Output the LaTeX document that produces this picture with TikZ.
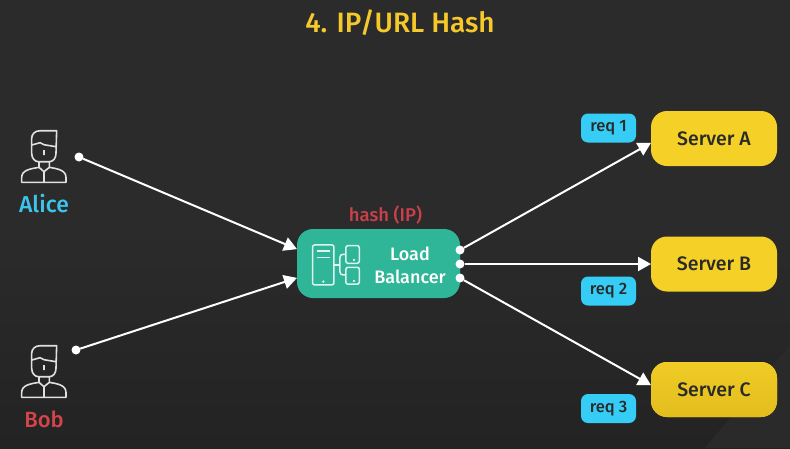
\documentclass[tikz,border=0pt]{standalone}
\usepackage{fontspec}
\setmainfont{Fira Sans Medium}
\usetikzlibrary{arrows.meta}
\definecolor{bgtop}{HTML}{2B2B2B}
\definecolor{bgbot}{HTML}{232323}
\definecolor{bgband}{HTML}{2A2A2A}
\definecolor{titleyellow}{HTML}{F5C92A}
\definecolor{serveryellow}{HTML}{F5D027}
\definecolor{servertop}{HTML}{F0CC25}
\definecolor{serverbot}{HTML}{E2BD1E}
\definecolor{lbgreen}{HTML}{2FB597}
\definecolor{reqblue}{HTML}{35CDF5}
\definecolor{alicecol}{HTML}{3CC4EC}
\definecolor{bobcol}{HTML}{D4444C}
\definecolor{hashcol}{HTML}{C8414A}
\definecolor{darktext}{HTML}{2A2A2A}
\definecolor{iconcol}{HTML}{DDF5EF}
\tikzset{
  server/.style={fill=serveryellow,rounded corners=16pt,minimum width=126pt,minimum height=55pt,
    inner sep=0pt,outer sep=0pt,text=darktext,font=\fontsize{19.5}{20}\selectfont},
  req/.style={fill=reqblue,rounded corners=7pt,minimum width=55pt,minimum height=29pt,
    inner sep=0pt,outer sep=0pt,text=darktext,font=\fontsize{16.5}{18}\selectfont},
  dot/.style={circle,fill=white,minimum size=9pt,inner sep=0pt,outer sep=0pt},
  link/.style={draw=white,line width=2pt,-{Triangle[length=13pt,width=14pt]}},
  pics/person/.style={code={
    \draw[line width=1.6pt,draw=white!88!black,line join=round,x=.333pt,y=-.333pt]
      (-37,-40) -- (-37,-10) .. controls (-37,5) and (-27,15) .. (-17,15) -- (16,15)
      .. controls (27,15) and (36,5) .. (36,-10) -- (38,-78) -- (-12,-78)
      .. controls (-27,-78) and (-37,-68) .. (-37,-55) -- cycle
      (-37,-35) -- (-12,-42) -- (0,-36) -- (36,-30)
      (0,-20) -- (0,-5)
      (-15,15) -- (-15,32) -- (0,45) -- (16,32) -- (16,15)
      (-15,32) .. controls (-40,36) and (-67,40) .. (-67,62) -- (-67,77) -- (66,77) -- (66,62)
      .. controls (66,40) and (40,36) .. (16,32)
      (0,45) -- (0,77);
  }}
}
\begin{document}
\begin{tikzpicture}[x=1pt,y=-1pt]
  \useasboundingbox (0,0) rectangle (790,448);
  \fill[top color=bgtop,bottom color=bgbot,middle color=bgtop] (0,0) rectangle (790,448);
  \fill[bgband] (790,345) -- (790,448) -- (705,448) -- cycle;

  \node[text=titleyellow,font=\fontsize{28}{30}\selectfont] (title) at (400,23) {4. IP/URL Hash};

  \pic at (44,156.7) {person};
  \node[text=alicecol,font=\fontsize{23}{24}\selectfont] (alice) at (44,204) {Alice};
  \pic at (44,371.7) {person};
  \node[text=bobcol,font=\fontsize{22}{24}\selectfont] (bob) at (44,419) {Bob};
  \node[dot] (alicedot) at (79,157) {};
  \node[dot] (bobdot) at (76,350) {};

  \node[text=hashcol,font=\fontsize{18.5}{18}\selectfont] (hash) at (385.5,215) {hash (IP)};
  \node[fill=lbgreen,rounded corners=16pt,minimum width=163pt,minimum height=69pt,inner sep=0pt,outer sep=0pt] (lb) at (378.5,263.5) {};
  \node[text=white,align=center,font=\fontsize{18}{23}\selectfont] (lbtext) at (410,265) {Load\\Balancer};
  \begin{scope}[shift={(280,195)},x=.333pt,y=-.333pt,draw=iconcol,line width=1.5pt]
    \draw[rounded corners=2pt] (98,150) rectangle (162,270);
    \draw (110,168) -- (150,168) (110,187) -- (150,187);
    \draw[rounded corners=2pt] (198,152) rectangle (238,205);
    \draw[rounded corners=2pt] (198,217) rectangle (238,268);
    \draw[rounded corners=3pt] (198,178) -- (180,178) -- (180,240) -- (198,240);
    \draw (162,210) -- (180,210);
    \fill[iconcol] (130,260) circle (4) (222,195) circle (4) (222,258) circle (4);
  \end{scope}

  \node[dot] (lbdota) at (460,250) {};
  \node[dot] (lbdotb) at (460,264) {};
  \node[dot] (lbdotc) at (460,278) {};

  \node[server] (servera) at (714,138.5) {Server A};
  \node[server] (serverb) at (714,264) {Server B};
  \node[server,top color=servertop,bottom color=serverbot] (serverc) at (714,389.5) {Server C};
  \node[req] (reqa) at (608.5,128) {req 1};
  \node[req] (reqb) at (608.5,291) {req 2};
  \node[req] (reqc) at (608.5,408.5) {req 3};

  \draw[link] (alicedot) -- (lb.170);
  \draw[link] (bobdot) -- (lb.190);
  \draw[link] (lbdota) -- (servera.184);
  \draw[link] (lbdotb) -- (serverb);
  \draw[link] (lbdotc) -- (serverc.176);
\end{tikzpicture}
\end{document}
